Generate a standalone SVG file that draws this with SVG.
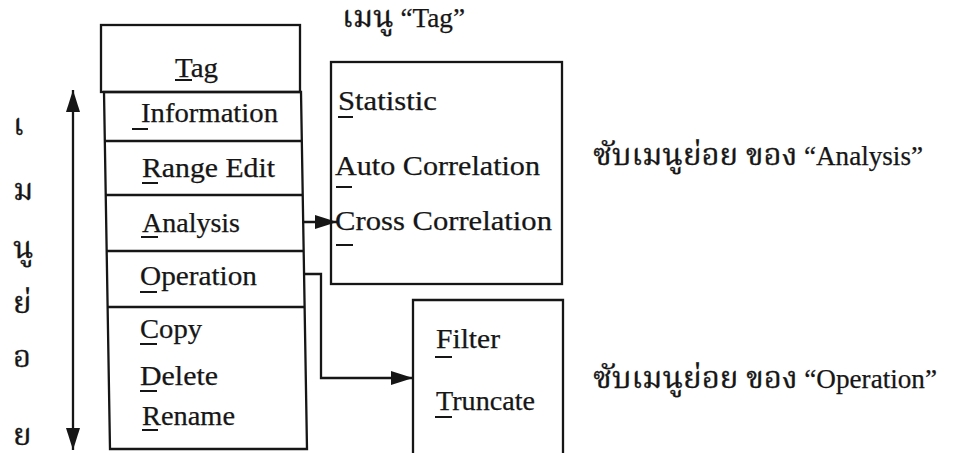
<svg xmlns="http://www.w3.org/2000/svg" width="955" height="453" viewBox="0 0 955 453">
  <defs>
    <style>
      .box { fill: none; stroke: #161616; stroke-width: 2.3; }
      .sep { stroke: #161616; stroke-width: 2.3; }
      .ul { stroke: #161616; stroke-width: 2; }
      .wire { fill: none; stroke: #161616; stroke-width: 2.3; }
      .t { font-family: "Liberation Serif", "Times New Roman", serif; font-size: 27px; fill: #161616; stroke: #161616; stroke-width: 0.25; }
      .th { font-family: "Liberation Serif", "Noto Serif Thai", "Noto Sans Thai", "Noto Sans", serif; font-size: 27px; fill: #161616; stroke: #161616; stroke-width: 0.25; }
      .big { font-size: 31px; stroke-width: 0.3; }
    </style>
    <marker id="head" viewBox="0 0 22 14" refX="22" refY="7" markerWidth="22" markerHeight="14" markerUnits="userSpaceOnUse" orient="auto">
      <path d="M0,0 L22,7 L0,14 Z" fill="#161616"/>
    </marker>
    <marker id="tail" viewBox="0 0 22 14" refX="22" refY="7" markerWidth="22" markerHeight="14" markerUnits="userSpaceOnUse" orient="auto-start-reverse">
      <path d="M0,0 L22,7 L0,14 Z" fill="#161616"/>
    </marker>
  </defs>

  <rect width="955" height="453" fill="#ffffff"/>

  <!-- Captions -->
  <g id="caption-tag">
    <text class="th" x="342" y="27" textLength="123" lengthAdjust="spacingAndGlyphs"><tspan class="big">เมนู</tspan> “Tag”</text>
  </g>
  <g id="caption-analysis">
    <text class="th" x="593" y="165" textLength="330" lengthAdjust="spacingAndGlyphs"><tspan class="big">ซับเมนูย่อย ของ</tspan> “Analysis”</text>
  </g>
  <g id="caption-operation">
    <text class="th" x="593" y="388" textLength="344" lengthAdjust="spacingAndGlyphs"><tspan class="big">ซับเมนูย่อย ของ</tspan> “Operation”</text>
  </g>

  <!-- Vertical label beside the up/down extent arrow -->
  <g id="submenu-label">
    <text class="th big" x="13" y="135">เ</text>
    <text class="th big" x="13" y="200">ม</text>
    <text class="th big" x="13" y="258">นู</text>
    <text class="th big" x="13" y="313">ย่</text>
    <text class="th big" x="13" y="367">อ</text>
    <text class="th big" x="13" y="445">ย</text>
  </g>

  <!-- Main "Tag" menu -->
  <g id="menu-tag">
    <rect class="box" x="101" y="25" width="199" height="67"/>
    <path class="box" d="M104,92 L110,449 L307,449 L301,92 Z"/>
    <line class="sep" x1="104.8" y1="141" x2="301.8" y2="141"/>
    <line class="sep" x1="105.7" y1="195" x2="302.7" y2="195"/>
    <line class="sep" x1="106.7" y1="251" x2="303.7" y2="251"/>
    <line class="sep" x1="107.6" y1="307" x2="304.6" y2="307"/>

    <text class="t" x="175" y="77" textLength="43" lengthAdjust="spacingAndGlyphs">Tag</text>
    <line class="ul" x1="175" y1="80" x2="192" y2="80"/>

    <text class="t" x="141" y="122" textLength="137" lengthAdjust="spacingAndGlyphs">Information</text>
    <line class="ul" x1="132" y1="129" x2="148" y2="129"/>

    <text class="t" x="142" y="177" textLength="133" lengthAdjust="spacingAndGlyphs">Range Edit</text>
    <line class="ul" x1="142" y1="183" x2="158" y2="183"/>

    <text class="t" x="142" y="232" textLength="98" lengthAdjust="spacingAndGlyphs">Analysis</text>
    <line class="ul" x1="141" y1="237" x2="158" y2="237"/>

    <text class="t" x="140" y="285" textLength="117" lengthAdjust="spacingAndGlyphs">Operation</text>
    <line class="ul" x1="140" y1="292" x2="157" y2="292"/>

    <text class="t" x="140" y="338" textLength="62" lengthAdjust="spacingAndGlyphs">Copy</text>
    <line class="ul" x1="140" y1="344" x2="157" y2="344"/>

    <text class="t" x="140" y="385" textLength="78" lengthAdjust="spacingAndGlyphs">Delete</text>
    <line class="ul" x1="140" y1="391" x2="157" y2="391"/>

    <text class="t" x="142" y="425" textLength="93" lengthAdjust="spacingAndGlyphs">Rename</text>
    <line class="ul" x1="142" y1="430" x2="158" y2="430"/>
  </g>

  <!-- Submenu of Analysis -->
  <g id="menu-analysis">
    <rect class="box" x="331" y="62" width="231" height="222"/>
    <text class="t" x="338" y="110" textLength="99" lengthAdjust="spacingAndGlyphs">Statistic</text>
    <line class="ul" x1="338" y1="117" x2="353" y2="117"/>
    <text class="t" x="335" y="175" textLength="205" lengthAdjust="spacingAndGlyphs">Auto Correlation</text>
    <line class="ul" x1="336" y1="187" x2="352" y2="187"/>
    <text class="t" x="335" y="230" textLength="217" lengthAdjust="spacingAndGlyphs">Cross Correlation</text>
    <line class="ul" x1="336" y1="245" x2="353" y2="245"/>
  </g>

  <!-- Submenu of Operation -->
  <g id="menu-operation">
    <path class="box" d="M413,455 L413,300 L563,300 L563,455"/>
    <text class="t" x="436" y="348" textLength="64" lengthAdjust="spacingAndGlyphs">Filter</text>
    <line class="ul" x1="435" y1="357" x2="452" y2="357"/>
    <text class="t" x="436" y="410" textLength="99" lengthAdjust="spacingAndGlyphs">Truncate</text>
    <line class="ul" x1="435" y1="417" x2="452" y2="417"/>
  </g>

  <!-- Connectors -->
  <g id="connectors">
    <line class="wire" x1="73" y1="450" x2="73" y2="90" marker-start="url(#tail)" marker-end="url(#head)"/>
    <line class="wire" x1="302" y1="222" x2="337" y2="222" marker-end="url(#head)"/>
    <path class="wire" d="M303,274 H321 V378 H413" marker-end="url(#head)"/>
  </g>
</svg>
